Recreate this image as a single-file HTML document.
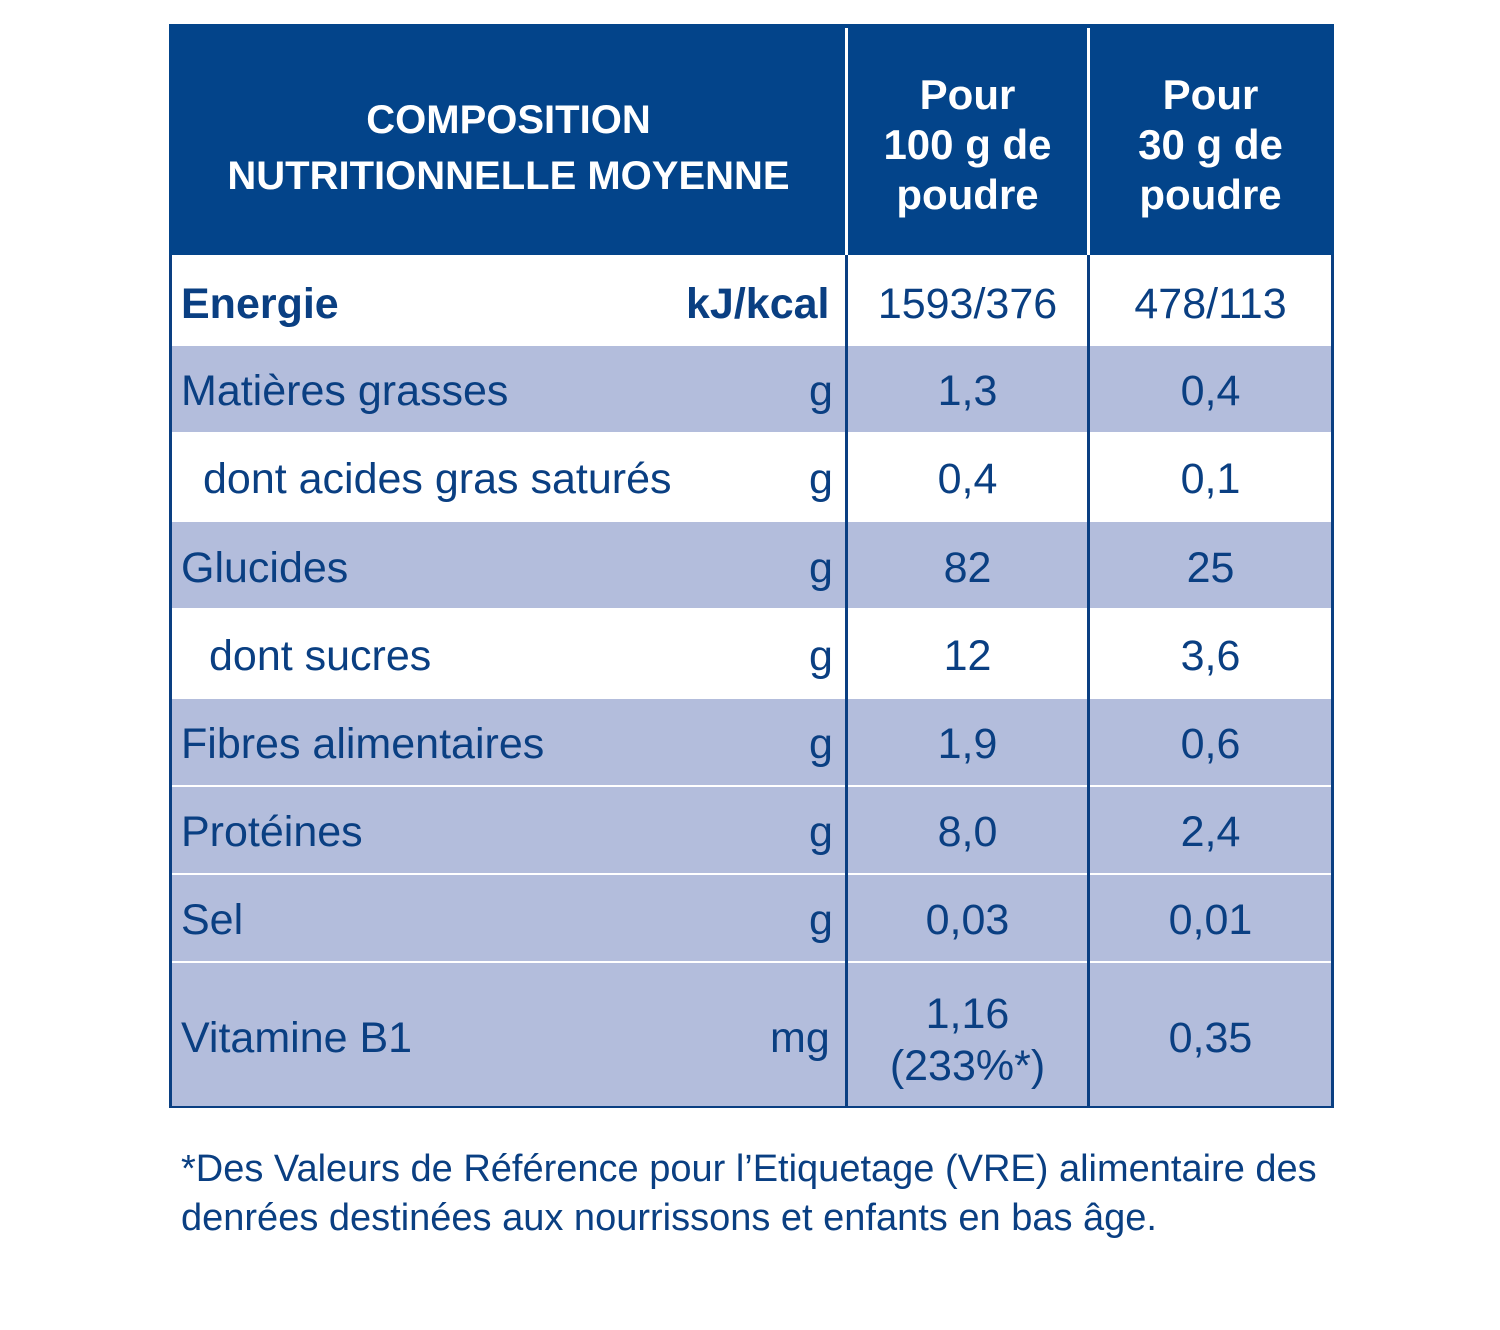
<!DOCTYPE html>
<html><head><meta charset="utf-8"><style>
body{margin:0;background:#fff;width:1500px;height:1330px;position:relative;font-family:"Liberation Sans",sans-serif;color:#0a3f82;overflow:hidden}
.a{position:absolute}
.hd{background:#03448a}
.row{position:absolute;left:172px;width:1159px}
.t{position:absolute;font-size:43px;line-height:1;white-space:nowrap}
.c{position:absolute;text-align:center;font-size:43px;line-height:1}
.h{color:#fff;font-weight:bold;text-align:center;position:absolute}
</style></head><body>
<div class="a hd" style="left:169px;top:24px;width:1165px;height:231px"></div>
<div class="a" style="left:845px;top:28px;width:3px;height:227px;background:#fff"></div>
<div class="a" style="left:1087px;top:28px;width:3px;height:227px;background:#fff"></div>
<div class="h" style="left:172px;top:92px;width:673px;font-size:40px;line-height:56px">COMPOSITION<br>NUTRITIONNELLE MOYENNE</div>
<div class="h" style="left:848px;top:70px;width:239px;font-size:42px;line-height:50px">Pour<br>100 g de<br>poudre</div>
<div class="h" style="left:1090px;top:70px;width:241px;font-size:42px;line-height:50px">Pour<br>30 g de<br>poudre</div>

<!-- row backgrounds -->
<div class="row" style="top:346px;height:86px;background:#b3bddc"></div>
<div class="row" style="top:522px;height:86px;background:#b3bddc"></div>
<div class="row" style="top:699px;height:86px;background:#b3bddc"></div>
<div class="row" style="top:787px;height:86px;background:#b3bddc"></div>
<div class="row" style="top:875px;height:86px;background:#b3bddc"></div>
<div class="row" style="top:963px;height:143px;background:#b3bddc"></div>

<!-- borders -->
<div class="a" style="left:169px;top:255px;width:3px;height:853px;background:#0a3f82"></div>
<div class="a" style="left:1331px;top:255px;width:3px;height:853px;background:#0a3f82"></div>
<div class="a" style="left:169px;top:1106px;width:1165px;height:2px;background:#0a3f82"></div>
<div class="a" style="left:845px;top:255px;width:3px;height:852px;background:#0a3f82"></div>
<div class="a" style="left:1087px;top:255px;width:3px;height:852px;background:#0a3f82"></div>

<!-- labels -->
<div class="t" style="left:181px;top:283px;font-weight:bold">Energie</div>
<div class="t" style="left:686px;top:283px;font-weight:bold">kJ/kcal</div>
<div class="t" style="left:181px;top:370px">Matières grasses</div>
<div class="t" style="left:203px;top:458px">dont acides gras saturés</div>
<div class="t" style="left:181px;top:547px">Glucides</div>
<div class="t" style="left:209px;top:635px">dont sucres</div>
<div class="t" style="left:181px;top:723px">Fibres alimentaires</div>
<div class="t" style="left:181px;top:811px">Protéines</div>
<div class="t" style="left:181px;top:899px">Sel</div>
<div class="t" style="left:181px;top:1017px">Vitamine B1</div>
<div class="t" style="left:809px;top:370px">g</div>
<div class="t" style="left:809px;top:458px">g</div>
<div class="t" style="left:809px;top:547px">g</div>
<div class="t" style="left:809px;top:635px">g</div>
<div class="t" style="left:809px;top:723px">g</div>
<div class="t" style="left:809px;top:811px">g</div>
<div class="t" style="left:809px;top:899px">g</div>
<div class="t" style="left:770px;top:1017px">mg</div>

<!-- values -->
<div class="c" style="left:848px;width:239px;top:283px">1593/376</div>
<div class="c" style="left:1090px;width:241px;top:283px">478/113</div>
<div class="c" style="left:848px;width:239px;top:370px">1,3</div>
<div class="c" style="left:1090px;width:241px;top:370px">0,4</div>
<div class="c" style="left:848px;width:239px;top:458px">0,4</div>
<div class="c" style="left:1090px;width:241px;top:458px">0,1</div>
<div class="c" style="left:848px;width:239px;top:547px">82</div>
<div class="c" style="left:1090px;width:241px;top:547px">25</div>
<div class="c" style="left:848px;width:239px;top:635px">12</div>
<div class="c" style="left:1090px;width:241px;top:635px">3,6</div>
<div class="c" style="left:848px;width:239px;top:723px">1,9</div>
<div class="c" style="left:1090px;width:241px;top:723px">0,6</div>
<div class="c" style="left:848px;width:239px;top:811px">8,0</div>
<div class="c" style="left:1090px;width:241px;top:811px">2,4</div>
<div class="c" style="left:848px;width:239px;top:899px">0,03</div>
<div class="c" style="left:1090px;width:241px;top:899px">0,01</div>
<div class="c" style="left:848px;width:239px;top:988px;line-height:52px">1,16<br>(233%*)</div>
<div class="c" style="left:1090px;width:241px;top:1017px">0,35</div>

<div class="a" style="left:181px;top:1145px;font-size:38px;line-height:49px;white-space:nowrap">*Des Valeurs de Référence pour l’Etiquetage (VRE) alimentaire des<br>denrées destinées aux nourrissons et enfants en bas âge.</div>
</body></html>
